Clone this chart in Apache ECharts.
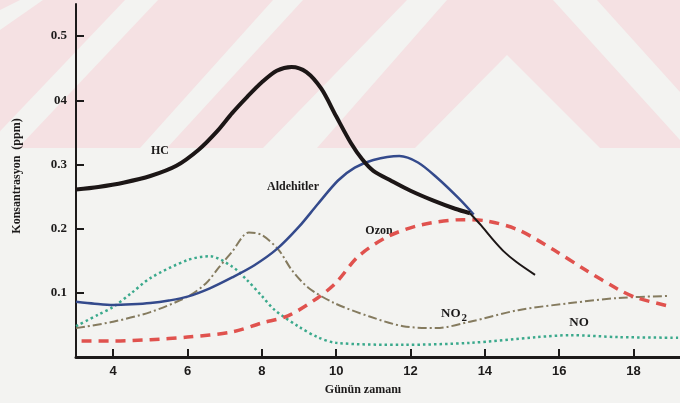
<!DOCTYPE html>
<html>
<head>
<meta charset="utf-8">
<script src="https://cdn.jsdelivr.net/npm/echarts@6/dist/echarts.min.js"></script>
<style>
  html, body { margin: 0; padding: 0; background: #f3f3f1; }
  #chart { width: 680px; height: 403px; }
</style>
</head>
<body>
<div id="chart"></div>
<script>
// Daily course of photochemical smog pollutants (ppm) against time of day
const hcHours      = [3.0, 3.6, 4.3, 5.0, 5.7, 6.3, 6.8, 7.2, 7.6, 8.0, 8.4, 8.8, 9.2, 9.6, 10.0, 10.4, 10.7, 11.0, 11.5, 12.0, 12.6, 13.2, 13.6];
const hcValues     = [0.261, 0.265, 0.272, 0.282, 0.298, 0.323, 0.352, 0.38, 0.405, 0.428, 0.446, 0.452, 0.444, 0.418, 0.375, 0.333, 0.308, 0.29, 0.274, 0.259, 0.244, 0.231, 0.224];
const hcTailHours  = [13.6, 13.9, 14.2, 14.5, 14.85, 15.35];
const hcTailValues = [0.224, 0.205, 0.184, 0.165, 0.148, 0.128];

const aldHours  = [3.0, 3.5, 4.0, 4.5, 5.0, 5.5, 6.0, 6.6, 7.2, 7.8, 8.4, 9.0, 9.5, 10.05, 10.5, 11.0, 11.7, 12.2, 12.7, 13.3, 13.7];
const aldValues = [0.086, 0.083, 0.081, 0.082, 0.084, 0.088, 0.094, 0.107, 0.124, 0.143, 0.168, 0.203, 0.238, 0.275, 0.295, 0.307, 0.313, 0.303, 0.28, 0.247, 0.222];

const ozonHours  = [3.15, 4.0, 5.0, 6.0, 7.2, 8.0, 8.7, 9.5, 10.0, 10.6, 11.4, 12.3, 13.4, 14.05, 14.9, 15.85, 16.7, 17.6, 18.1, 19.05];
const ozonValues = [0.025, 0.025, 0.027, 0.031, 0.039, 0.053, 0.064, 0.092, 0.116, 0.157, 0.188, 0.206, 0.214, 0.212, 0.198, 0.167, 0.136, 0.105, 0.092, 0.078];

const no2Hours  = [3.0, 4.0, 5.0, 6.0, 6.5, 6.85, 7.2, 7.65, 8.0, 8.45, 8.8, 9.25, 9.95, 10.9, 11.8, 12.7, 13.6, 14.9, 16.3, 17.6, 18.9];
const no2Values = [0.045, 0.055, 0.07, 0.094, 0.115, 0.14, 0.164, 0.194, 0.19, 0.167, 0.136, 0.108, 0.084, 0.063, 0.048, 0.045, 0.055, 0.073, 0.084, 0.092, 0.095];

const noHours  = [3.0, 3.6, 4.0, 4.5, 5.0, 6.0, 6.6, 7.2, 7.6, 8.0, 8.35, 9.0, 9.5, 10.0, 11.8, 13.6, 15.4, 16.3, 17.6, 19.25];
const noValues = [0.048, 0.066, 0.078, 0.1, 0.123, 0.151, 0.157, 0.141, 0.12, 0.095, 0.073, 0.047, 0.031, 0.022, 0.019, 0.022, 0.031, 0.034, 0.031, 0.03];

// Axis tick values and their printed labels
const xTickValues = [4, 6, 8, 10, 12, 14, 16, 18];
const xTickLabels = ['4', '6', '8', '10', '12', '14', '16', '18'];
const yTickValues = [0.1, 0.2, 0.3, 0.4, 0.5];
const yTickLabels = ['0.1', '0.2', '0.3', '04', '0.5'];

const pairs = (xs, ys) => xs.map((x, i) => [x, ys[i]]);
const serif = '"Liberation Serif", "DejaVu Serif", serif';
const sans = '"Liberation Sans", Arial, sans-serif';
const ink = '#1c1a1a';
const pink = '#f5e1e3';
const paper = '#f3f3f1';

function lineSeries(name, data, color, width, dash, z) {
  return {
    name, type: 'line', data, smooth: 0.3, symbol: 'none', z: z || 3,
    lineStyle: { color, width, type: dash || 'solid', cap: 'butt', join: 'round' },
    emphasis: { disabled: true }
  };
}

const chart = echarts.init(document.getElementById('chart'), null, { renderer: 'canvas' });

chart.setOption({
  backgroundColor: paper,
  animation: false,
  grid: { left: 76, right: 0, top: 4, bottom: 46, containLabel: false },
  xAxis: {
    type: 'value', min: 3, max: 19.25,
    splitLine: { show: false },
    axisLine: { show: true, onZero: false, lineStyle: { color: ink, width: 3 } },
    axisTick: { show: true, inside: true, length: 8, customValues: xTickValues, lineStyle: { color: ink, width: 2 } },
    axisLabel: {
      customValues: xTickValues, margin: 8,
      formatter: v => xTickLabels[xTickValues.indexOf(v)] || '',
      color: ink, fontFamily: sans, fontWeight: 'bold', fontSize: 13
    }
  },
  yAxis: {
    type: 'value', min: 0, max: 0.55,
    splitLine: { show: false },
    axisLine: { show: true, lineStyle: { color: ink, width: 2 } },
    axisTick: { show: true, inside: true, length: 8, customValues: yTickValues, lineStyle: { color: ink, width: 2 } },
    axisLabel: {
      customValues: yTickValues, margin: 9,
      formatter: v => yTickLabels[yTickValues.findIndex(t => Math.abs(t - v) < 1e-9)] || '',
      color: ink, fontFamily: serif, fontWeight: 'bold', fontSize: 13
    }
  },
  graphic: [
    // faint pink chevron pattern across the upper band of the paper
    { type: 'group', z: -10, silent: true, children: [
      { type: 'rect', shape: { x: 0, y: 0, width: 680, height: 148 }, style: { fill: pink } },
      { type: 'polygon', shape: { points: [[0, 10], [20, 0], [43, 0], [0, 30]] }, style: { fill: paper } },
      { type: 'polygon', shape: { points: [[125, 0], [158, 0], [18, 148], [-16, 148]] }, style: { fill: paper } },
      { type: 'polygon', shape: { points: [[273, 0], [303, 0], [167, 148], [140, 148]] }, style: { fill: paper } },
      { type: 'polygon', shape: { points: [[407, 0], [447, 0], [317, 148], [263, 148]] }, style: { fill: paper } },
      { type: 'polygon', shape: { points: [[415, 148], [507, 55], [600, 148]] }, style: { fill: paper } },
      { type: 'polygon', shape: { points: [[553, 0], [597, 0], [680, 92], [680, 140]] }, style: { fill: paper } }
    ]},
    // axis titles
    { type: 'text', x: 17, y: 176, rotation: Math.PI / 2, silent: true,
      style: { text: 'Konsantrasyon  (ppm)', fill: ink, font: 'bold 12px ' + serif, textAlign: 'center', textVerticalAlign: 'middle' } },
    { type: 'text', x: 363, y: 390, silent: true,
      style: { text: 'Günün zamanı', fill: ink, font: 'bold 12px ' + serif, textAlign: 'center', textVerticalAlign: 'middle' } },
    // curve names
    { type: 'text', x: 160, y: 151, silent: true,
      style: { text: 'HC', fill: ink, font: 'bold 12px ' + serif, textAlign: 'center', textVerticalAlign: 'middle' } },
    { type: 'text', x: 293, y: 187, silent: true,
      style: { text: 'Aldehitler', fill: ink, font: 'bold 12px ' + serif, textAlign: 'center', textVerticalAlign: 'middle' } },
    { type: 'text', x: 379, y: 231, silent: true,
      style: { text: 'Ozon', fill: ink, font: 'bold 12px ' + serif, textAlign: 'center', textVerticalAlign: 'middle' } },
    { type: 'text', x: 441, y: 314, silent: true,
      style: { text: '{n|NO}{s|2}', fill: ink, textVerticalAlign: 'middle',
        rich: { n: { font: 'bold 13px ' + serif, fill: ink }, s: { font: 'bold 11px ' + serif, fill: ink, padding: [8, 0, 0, 1] } } } },
    { type: 'text', x: 579, y: 323, silent: true,
      style: { text: 'NO', fill: ink, font: 'bold 13px ' + serif, textAlign: 'center', textVerticalAlign: 'middle' } }
  ],
  series: [
    lineSeries('NO', pairs(noHours, noValues), '#3aa98c', 2.5, [2.5, 3]),
    lineSeries('NO2', pairs(no2Hours, no2Values), '#857b5f', 2, [9, 3, 2, 3]),
    lineSeries('Ozon', pairs(ozonHours, ozonValues), '#e0524e', 3.5, [10, 7]),
    lineSeries('Aldehitler', pairs(aldHours, aldValues), '#344a8c', 2.5),
    lineSeries('HC', pairs(hcHours, hcValues), '#1c1616', 4, null, 5),
    lineSeries('HC', pairs(hcTailHours, hcTailValues), '#1c1616', 2, null, 5)
  ]
});
</script>
</body>
</html>
